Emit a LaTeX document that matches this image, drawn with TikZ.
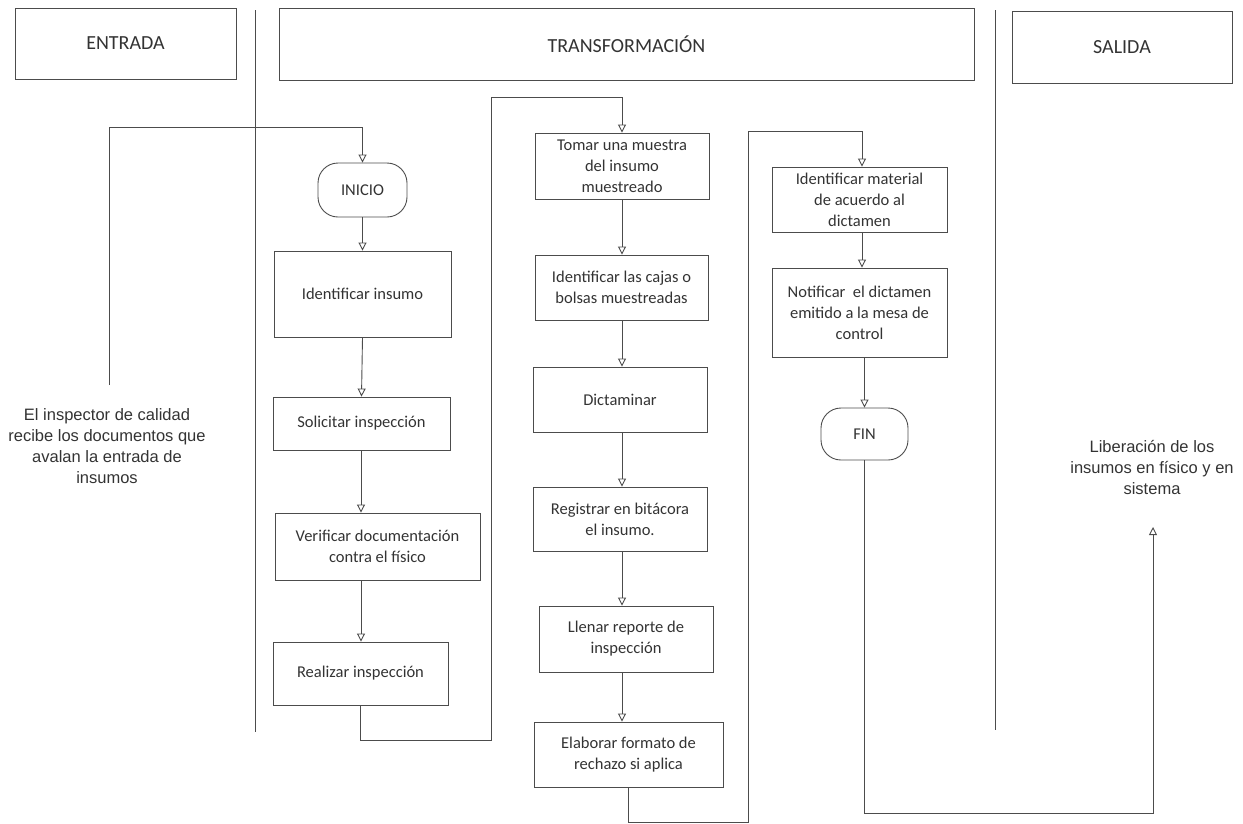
\documentclass[tikz,border=0pt]{standalone}
\usepackage{fontspec}
\setmainfont{Carlito}
\newfontfamily\arialf{Liberation Sans}
\usetikzlibrary{arrows.meta}
\begin{document}
\begin{tikzpicture}[x=1pt,y=-1pt,
  ln/.style={draw=black!70, line width=0.9pt},
  arr/.style={ln, -{Triangle[open,length=8pt,width=8pt]}},
  hdr/.style={draw=black!70, line width=0.9pt, font=\fontsize{20}{24}\selectfont, text=black!80, inner sep=0pt},
  proc/.style={draw=black!70, line width=0.9pt, align=center, font=\fontsize{16.5}{21}\selectfont, text=black!80, inner sep=0pt},
  term/.style={proc, rounded corners=20pt},
  note/.style={align=center, font=\arialf\fontsize{16.5}{21}\selectfont, text=black!80, inner sep=0pt}
]
\useasboundingbox (0,0) rectangle (1243,823);

% headers
\node[hdr, minimum width=221pt, minimum height=71pt] (hin) at (125.5,43.5) {ENTRADA};
\node[hdr, minimum width=695pt, minimum height=72pt] (htr) at (626.5,44) {TRANSFORMACIÓN};
\node[hdr, minimum width=220pt, minimum height=72pt] (hout) at (1122,47) {SALIDA};

% separators
\draw[ln] (255,10) -- (255,732);
\draw[ln] (995,10) -- (995,730);

% notes
\node[note] (entext) at (107,446) {El inspector de calidad\\recibe los documentos que\\avalan la entrada de\\insumos};
\node[note] (libtext) at (1152,467) {Liberación de los\\insumos en físico y en\\sistema};

% column A
\node[term, minimum width=89pt, minimum height=54pt] (inicio) at (362.5,190) {INICIO};
\node[proc, minimum width=177pt, minimum height=86pt] (idins) at (362.5,294) {Identificar insumo};
\node[proc, minimum width=177pt, minimum height=53pt] (sol) at (361.5,423.5) {Solicitar inspección};
\node[proc, minimum width=205pt, minimum height=67pt] (ver) at (377.5,546.5) {Verificar documentación\\contra el físico};
\node[proc, minimum width=175pt, minimum height=63pt] (rea) at (360.5,673.5) {Realizar inspección};
\coordinate (colA) at (361,0);

% column B
\node[proc, minimum width=174pt, minimum height=66pt] (tom) at (622,166) {Tomar una muestra\\del insumo\\muestreado};
\node[proc, minimum width=173pt, minimum height=65pt] (caj) at (621.5,287.5) {Identificar las cajas o\\bolsas muestreadas};
\node[proc, minimum width=174pt, minimum height=65pt] (dic) at (620,399.5) {Dictaminar};
\node[proc, minimum width=174pt, minimum height=64pt] (reg) at (620,519) {Registrar en bitácora\\el insumo.};
\node[proc, minimum width=174pt, minimum height=66pt] (lle) at (626,639) {Llenar reporte de\\inspección};
\node[proc, minimum width=189pt, minimum height=65pt] (ela) at (628.5,754.5) {Elaborar formato de\\rechazo si aplica};
\coordinate (colB) at (622,0);

% column C
\node[proc, minimum width=175pt, minimum height=65pt] (mat) at (859.5,199.5) {Identificar material\\de acuerdo al\\dictamen};
\node[proc, minimum width=175pt, minimum height=89pt] (not) at (859.5,312.5) {Notificar\ \ el dictamen\\emitido a la mesa de\\control};
\node[term, minimum width=87pt, minimum height=52pt] (fin) at (864.5,434) {FIN};
\coordinate (colC) at (862,0);

% route coordinates
\coordinate (s0) at (109,385);
\coordinate (s1) at (109,127);
\coordinate (a1) at (491,740);
\coordinate (a2) at (491,97);
\coordinate (b1) at (748,822);
\coordinate (b2) at (748,131);
\coordinate (c1) at (1153,813);
\coordinate (libarr) at (1153,527);

% connectors
\draw[arr] (s0) -- (s1) -| (inicio.north);
\draw[arr] (inicio.south) -- (idins.north);
\draw[arr] (idins.south) -- (sol.north);
\draw[arr] (sol.south -| colA) -- (ver.north -| colA);
\draw[arr] (ver.south -| colA) -- (rea.north -| colA);
\draw[arr] (rea.south) |- (a1) -- (a2) -| (tom.north -| colB);
\draw[arr] (tom.south -| colB) -- (caj.north -| colB);
\draw[arr] (caj.south -| colB) -- (dic.north -| colB);
\draw[arr] (dic.south -| colB) -- (reg.north -| colB);
\draw[arr] (reg.south -| colB) -- (lle.north -| colB);
\draw[arr] (lle.south -| colB) -- (ela.north -| colB);
\draw[arr] (ela.south) |- (b1) -- (b2) -| (mat.north -| colC);
\draw[arr] (mat.south -| colC) -- (not.north -| colC);
\draw[arr] (not.south -| fin) -- (fin.north);
\draw[arr] (fin.south) |- (c1) -- (libarr);
\end{tikzpicture}
\end{document}
